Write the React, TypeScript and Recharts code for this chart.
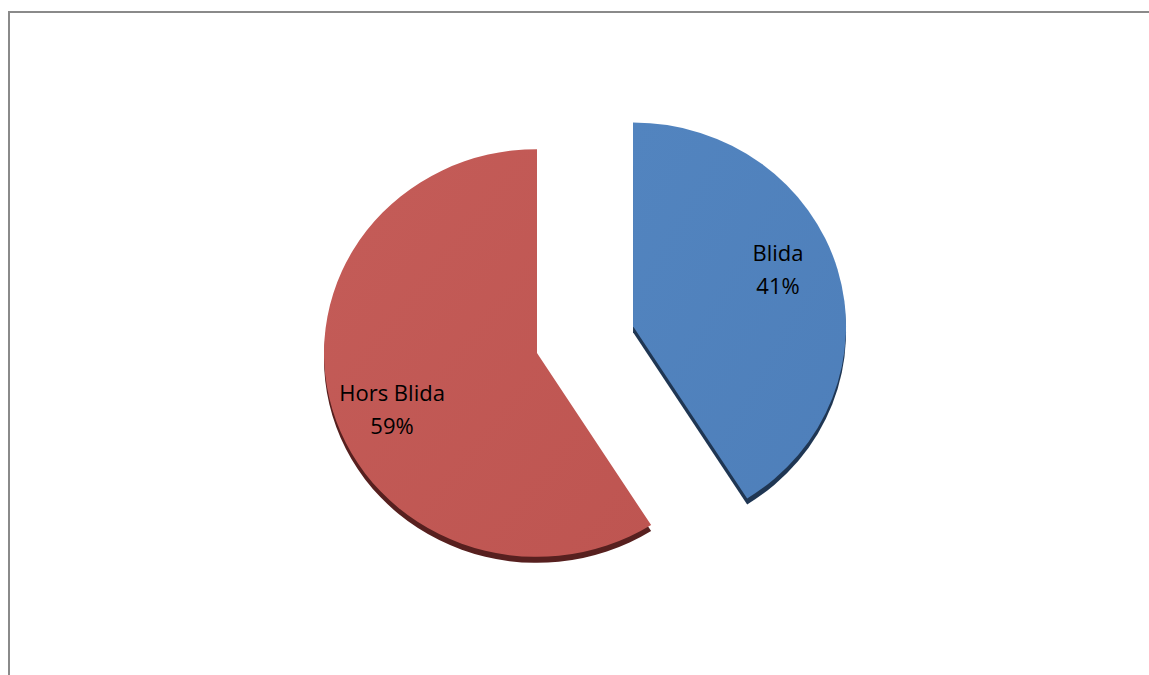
import React from "react";
import { PieChart, Pie, Cell, Sector } from "recharts";

const categories = ["Blida", "Hors Blida"];
const values = [41, 59];
const colors = ["#4E7FBA", "#BE5551"];
const colorsLight = ["#5284BF", "#C45C58"];
const colorsDark = ["#1F3653", "#57201F"];

const data = categories.map((name, i) => ({ name, value: values[i] }));

const EXPLODE: Record<string, number> = { Blida: 100 };
const SCALE_Y = 0.957;
const DEPTH = 6;
const LABEL_R = 0.735;
const LABEL_ANGLE_SHIFT = 6;
const RAD = Math.PI / 180;

const offsetFor = (name: string, midAngle: number) => {
  const e = EXPLODE[name] ?? 0;
  return {
    dx: e * Math.cos(-midAngle * RAD),
    dy: e * Math.sin(-midAngle * RAD) * SCALE_Y,
  };
};

const renderShape = (props: any) => {
  const { cx, cy, innerRadius, outerRadius, startAngle, endAngle, midAngle } = props;
  const name = props.payload?.name ?? props.name;
  const idx = categories.indexOf(name);
  const { dx, dy } = offsetFor(name, midAngle);
  return (
    <g transform={`translate(${cx + dx} ${cy + dy}) scale(1 ${SCALE_Y})`}>
      <Sector
        cx={0}
        cy={DEPTH / SCALE_Y}
        innerRadius={innerRadius}
        outerRadius={outerRadius}
        startAngle={startAngle}
        endAngle={endAngle}
        fill={colorsDark[idx]}
        stroke="none"
      />
      <Sector
        cx={0}
        cy={0}
        innerRadius={innerRadius}
        outerRadius={outerRadius}
        startAngle={startAngle}
        endAngle={endAngle}
        fill={`url(#grad-${idx})`}
        stroke="none"
      />
    </g>
  );
};

const renderLabel = (props: any) => {
  const { cx, cy, midAngle, outerRadius, percent } = props;
  const name = props.payload?.name ?? props.name;
  const { dx, dy } = offsetFor(name, midAngle);
  const a = (midAngle + LABEL_ANGLE_SHIFT) * RAD;
  const r = outerRadius * LABEL_R;
  const x = cx + dx + r * Math.cos(-a);
  const y = cy + dy + r * Math.sin(-a) * SCALE_Y;
  return (
    <text
      x={x}
      y={y - 9}
      textAnchor="middle"
      fontFamily="'Open Sans', 'Noto Sans', sans-serif"
      fontSize={22}
      fill="#000"
    >
      <tspan x={x} y={y - 9}>{name}</tspan>
      <tspan x={x} y={y + 24}>{`${Math.round(percent * 100)}%`}</tspan>
    </text>
  );
};

export default function App() {
  return (
    <div
      style={{
        position: "fixed",
        left: 0,
        top: 0,
        width: 1149,
        height: 675,
        overflow: "hidden",
        background: "#fff",
      }}
    >
      <PieChart width={1149} height={675} margin={{ top: 0, right: 0, bottom: 0, left: 0 }}>
        <defs>
          {colors.map((c, i) => (
            <linearGradient key={i} id={`grad-${i}`} x1="0" y1="0" x2="1" y2="1">
              <stop offset="0%" stopColor={colorsLight[i]} />
              <stop offset="100%" stopColor={c} />
            </linearGradient>
          ))}
        </defs>
        <path d="M9 675 V12 H1149" fill="none" stroke="#8A8A8A" strokeWidth={2} />
        <Pie
          data={data}
          dataKey="value"
          nameKey="name"
          cx={537}
          cy={353}
          outerRadius={213}
          startAngle={90}
          endAngle={-270}
          stroke="none"
          isAnimationActive={false}
          labelLine={false}
          label={renderLabel}
          shape={renderShape}
          activeShape={renderShape}
          inactiveShape={renderShape}
        >
          {data.map((d, i) => (
            <Cell key={d.name} fill={colors[i]} />
          ))}
        </Pie>
      </PieChart>
    </div>
  );
}
